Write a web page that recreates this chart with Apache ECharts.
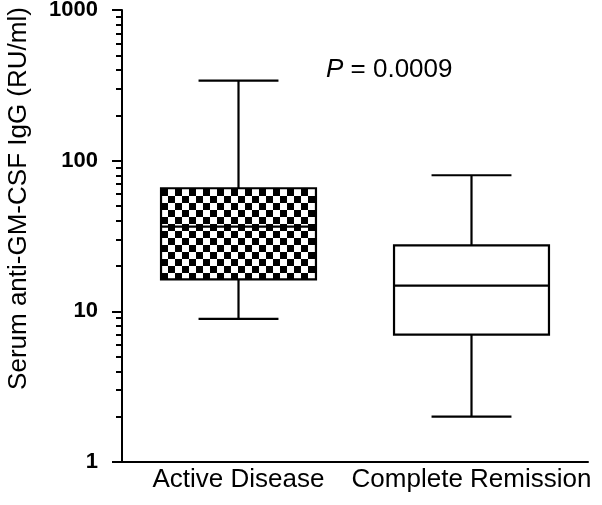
<!DOCTYPE html>
<html><head><meta charset="utf-8">
<script src="https://cdn.jsdelivr.net/npm/echarts@6/dist/echarts.min.js"></script>
<style>html,body{margin:0;padding:0;background:#fff}#c{width:602px;height:505px}</style>
</head><body><div id="c"></div>
<script>
// ---- data ----
const categories = ['Active Disease', 'Complete Remission'];
const whiskerMin = [8.9, 2.0];
const quartile1 = [16.3, 7.0];
const medians = [36.5, 14.8];
const quartile3 = [65.6, 27.4];
const whiskerMax = [340, 80];
const majorTicks = [1, 10, 100, 1000];
const minorTicks = [2, 3, 4, 5, 6, 7, 8, 9, 20, 30, 40, 50, 60, 70, 80, 90, 200, 300, 400, 500, 600, 700, 800, 900];
const yTitle = 'Serum anti-GM-CSF IgG (RU/ml)';
const pValueText = '0.0009';

// ---- pattern ----
const checker = document.createElement('canvas');
checker.width = 14; checker.height = 14;
(function () {
  const g = checker.getContext('2d');
  g.fillStyle = '#fff'; g.fillRect(0, 0, 14, 14);
  g.fillStyle = '#000'; g.fillRect(0, 0, 7, 7); g.fillRect(7, 7, 7, 7);
})();

const boxData = categories.map((c, i) => [i, whiskerMin[i], quartile1[i], medians[i], quartile3[i], whiskerMax[i]]);

const chart = echarts.init(document.getElementById('c'), null, { renderer: 'canvas' });
const font = 'Liberation Sans, Arial, Helvetica, sans-serif';
chart.setOption({
  animation: false,
  backgroundColor: '#fff',
  grid: { left: 122, right: 14, top: 10, bottom: 43, containLabel: false, outerBoundsMode: 'none' },
  xAxis: {
    type: 'category', data: categories, boundaryGap: true,
    axisLine: { show: true, lineStyle: { color: '#000', width: 2 } },
    axisTick: { show: false },
    axisLabel: { color: '#000', fontSize: 26, fontFamily: font, margin: 5, interval: 0 },
    splitLine: { show: false }
  },
  yAxis: [{
    type: 'log', logBase: 10, min: 1, max: 1000, position: 'left',
    name: yTitle, nameLocation: 'middle', nameGap: 90, nameRotate: 90,
    nameTextStyle: { color: '#000', fontSize: 26, fontFamily: font, padding: [0, 0, 0, 75] },
    axisLine: { show: true, lineStyle: { color: '#000', width: 2 } },
    axisTick: { show: true, customValues: majorTicks, length: 10, lineStyle: { color: '#000', width: 2 } },
    axisLabel: { customValues: majorTicks, formatter: function (v) { return String(v); }, color: '#000', fontSize: 22, fontWeight: 'bold', fontFamily: font, margin: 24 },
    splitLine: { show: false }
  }, {
    type: 'log', logBase: 10, min: 1, max: 1000, position: 'left', offset: 0,
    axisLine: { show: false },
    axisTick: { show: true, customValues: minorTicks, length: 6, lineStyle: { color: '#000', width: 2 } },
    axisLabel: { show: false },
    splitLine: { show: false }
  }],
  graphic: [{
    type: 'text', left: 326, top: 57,
    style: {
      text: '{i|P} = ' + pValueText,
      font: '26px ' + font, fill: '#000',
      rich: { i: { fontStyle: 'italic', fontSize: 26, fontFamily: font } }
    }
  }],
  series: [{
    type: 'custom', coordinateSystem: 'cartesian2d', xAxisIndex: 0, yAxisIndex: 0,
    encode: { x: 0, y: [1, 2, 3, 4, 5] },
    data: boxData,
    renderItem: function (params, api) {
      const xi = api.value(0);
      const pMin = api.coord([xi, api.value(1)]);
      const pQ1 = api.coord([xi, api.value(2)]);
      const pMed = api.coord([xi, api.value(3)]);
      const pQ3 = api.coord([xi, api.value(4)]);
      const pMax = api.coord([xi, api.value(5)]);
      const band = params.coordSys.width / categories.length;
      const bw = band * 0.665, cw = band * 0.343;
      const cx = pMed[0];
      const ls = { stroke: '#000', lineWidth: 2.2 };
      const fill = xi === 0 ? { image: checker, repeat: 'repeat' } : '#fff';
      return {
        type: 'group', children: [
          { type: 'line', shape: { x1: cx, y1: pMax[1], x2: cx, y2: pQ3[1] }, style: ls },
          { type: 'line', shape: { x1: cx - cw / 2, y1: pMax[1], x2: cx + cw / 2, y2: pMax[1] }, style: ls },
          { type: 'line', shape: { x1: cx, y1: pQ1[1], x2: cx, y2: pMin[1] }, style: ls },
          { type: 'line', shape: { x1: cx - cw / 2, y1: pMin[1], x2: cx + cw / 2, y2: pMin[1] }, style: ls },
          { type: 'rect', shape: { x: cx - bw / 2, y: pQ3[1], width: bw, height: pQ1[1] - pQ3[1] }, style: { fill: fill, stroke: '#000', lineWidth: 2.2 } },
          { type: 'line', shape: { x1: cx - bw / 2, y1: pMed[1], x2: cx + bw / 2, y2: pMed[1] }, style: ls }
        ]
      };
    }
  }]
});
</script></body></html>
